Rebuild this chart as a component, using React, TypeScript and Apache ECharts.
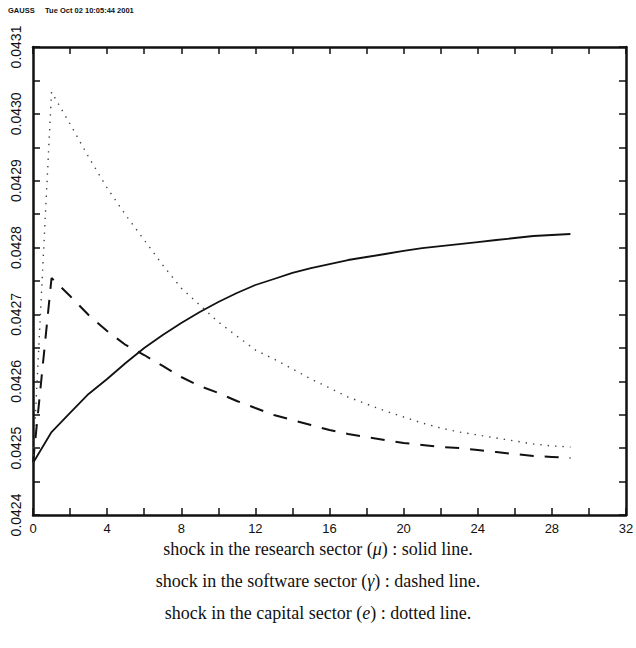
import React, { useEffect, useRef } from "react";
import * as echarts from "echarts";

const periods = [0, 1, 2, 3, 4, 5, 6, 7, 8, 9, 10, 11, 12, 13, 14, 15, 16, 17, 18, 19, 20, 21, 22, 23, 24, 25, 26, 27, 28, 29];

const researchShock = [
  0.0424778, 0.0425241, 0.0425526, 0.042581, 0.0426034, 0.0426273, 0.0426498, 0.0426692, 0.0426872, 0.0427036,
  0.0427186, 0.042732, 0.042744, 0.042753, 0.042762, 0.0427694, 0.0427754, 0.0427814, 0.0427859, 0.0427904,
  0.0427949, 0.0427993, 0.0428023, 0.0428053, 0.0428083, 0.0428113, 0.0428143, 0.0428173, 0.0428188, 0.0428203,
];

const softwareShock = [
  0.0424778, 0.0427545, 0.0427276, 0.0426991, 0.0426752, 0.0426543, 0.0426393, 0.0426229, 0.0426064, 0.0425929,
  0.0425825, 0.0425705, 0.04256, 0.0425496, 0.0425421, 0.0425346, 0.0425271, 0.0425212, 0.0425167, 0.0425122,
  0.0425077, 0.0425047, 0.0425017, 0.0425002, 0.0424972, 0.0424942, 0.0424912, 0.0424882, 0.0424868, 0.0424853,
];

const capitalShock = [
  0.0424778, 0.0430327, 0.0429848, 0.0429355, 0.0428891, 0.0428487, 0.0428113, 0.0427739, 0.0427395, 0.0427141,
  0.0426887, 0.0426677, 0.0426468, 0.0426333, 0.0426184, 0.0426034, 0.04259, 0.0425765, 0.042566, 0.0425556,
  0.0425466, 0.0425376, 0.0425301, 0.0425241, 0.0425197, 0.0425152, 0.0425107, 0.0425062, 0.0425032, 0.0425017,
];

const header = "GAUSS     Tue Oct 02 10:05:44 2001";

const captionLines = [
  ["shock in the research sector (", "μ", ") : solid line."],
  ["shock in the software sector (", "γ", ") : dashed line."],
  ["shock in the capital sector (", "e", ") : dotted line."],
];

const X_MIN = 0, X_MAX = 32, X_STEP = 4;
const Y_MIN = 0.0424, Y_MAX = 0.0431, Y_STEP = 0.0001;

const pairs = (ys: number[]) => periods.map((p, i) => [p, ys[i]]);

export default function App() {
  const ref = useRef<HTMLDivElement>(null);
  useEffect(() => {
    if (!ref.current) return;
    const chart = echarts.init(ref.current, null, { renderer: "svg" });
    const axisFont = "Liberation Sans";
    const tickCommon = { show: true, inside: true, length: 7, lineStyle: { color: "#111", width: 1.5 } };
    const minorCommon = { show: true, splitNumber: 2, length: 7, lineStyle: { color: "#111", width: 1.5 } };
    const xBase = {
      type: "value", min: X_MIN, max: X_MAX, interval: X_STEP,
      splitLine: { show: false },
      axisTick: tickCommon, minorTick: minorCommon,
      axisLine: { show: true, onZero: false, lineStyle: { color: "#111", width: 2.5 } },
    };
    const yBase = {
      type: "value", min: Y_MIN, max: Y_MAX, interval: Y_STEP,
      splitLine: { show: false },
      axisTick: tickCommon, minorTick: minorCommon,
      axisLine: { show: true, onZero: false, lineStyle: { color: "#111", width: 2.5 } },
    };
    const serif = "Liberation Serif";
    chart.setOption({
      animation: false,
      backgroundColor: "#fff",
      grid: { left: 33, right: 10, top: 47, bottom: 133, containLabel: false, outerBoundsMode: "none" },
      xAxis: [
        {
          ...xBase, position: "bottom",
          axisLabel: { show: true, margin: 7, color: "#111", fontFamily: axisFont, fontSize: 13, formatter: (v: number) => String(Math.round(v)) },
        },
        { ...xBase, position: "top", axisLabel: { show: false } },
      ],
      yAxis: [
        {
          ...yBase, position: "left",
          axisLabel: { show: true, rotate: 90, margin: 10, color: "#111", fontFamily: axisFont, fontSize: 14, formatter: (v: number) => v.toFixed(4) },
        },
        { ...yBase, position: "right", axisLabel: { show: false } },
      ],
      series: [
        { name: "research", type: "line", data: pairs(researchShock), showSymbol: false, lineStyle: { color: "#111", width: 1.8, type: "solid" } },
        { name: "software", type: "line", data: pairs(softwareShock), showSymbol: false, lineStyle: { color: "#111", width: 2, type: [14, 11] } },
        { name: "capital", type: "line", data: pairs(capitalShock), showSymbol: false, lineStyle: { color: "#444", width: 1.4, type: [1.4, 6] } },
      ],
      graphic: [
        { type: "text", left: 8, top: 6, style: { text: header, fontSize: 7.5, fontWeight: "bold", fontFamily: axisFont, fill: "#111" } },
        ...captionLines.map((parts, i) => ({
          type: "text",
          left: "center",
          top: 540 + i * 32,
          style: {
            text: `{r|${parts[0]}}{i|${parts[1]}}{r|${parts[2]}}`,
            rich: {
              r: { fontFamily: serif, fontSize: 18, fill: "#111" },
              i: { fontFamily: serif, fontSize: 18, fontStyle: "italic", fill: "#111" },
            },
          },
        })),
      ],
    });
    return () => chart.dispose();
  }, []);
  return <div ref={ref} style={{ position: "fixed", left: 0, top: 0, width: 636, height: 648 }} />;
}
